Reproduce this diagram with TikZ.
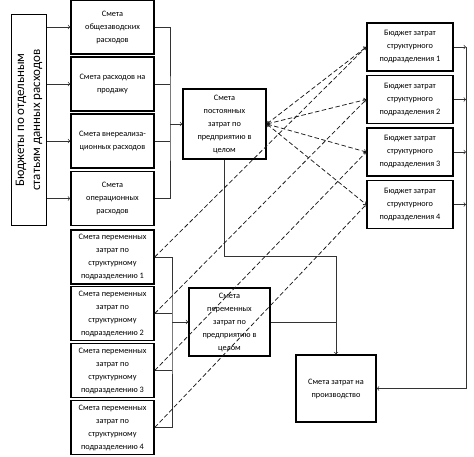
\documentclass[tikz,border=0pt]{standalone}
\usepackage{fontspec}
\setmainfont{Carlito}
\usetikzlibrary{arrows}

\begin{document}
\begin{tikzpicture}[x=1pt,y=-1pt,>=to,
    box/.style={draw, line width=1.5pt, align=center, inner sep=1pt,
      font=\fontsize{8.3}{13}\selectfont},
    colbox/.style={box, minimum width=83pt, minimum height=54pt},
    budbox/.style={box, minimum width=86pt, minimum height=48pt},
    link/.style={draw=black!80, line width=0.7pt},
    dashlink/.style={draw=black!90, line width=0.75pt, dash pattern=on 4.5pt off 2.5pt}]
  \useasboundingbox (0,0) rectangle (474,456);

  \node[box, minimum width=35pt, minimum height=211pt] (budgets) at (29,120)
    {\rotatebox{90}{\fontsize{13}{16}\selectfont\begin{tabular}{@{}c@{}}Бюджеты по отдельным\\статьям данных расходов\end{tabular}}};

  \node[colbox] (factory) at (112.5,27) {Смета\\общезаводских\\расходов};
  \node[colbox] (sales) at (112.5,84) {Смета расходов на\\продажу};
  \node[colbox] (nonop) at (112.5,141) {Смета внереализа-\\ционных расходов};
  \node[colbox] (oper) at (112.5,198.5) {Смета\\операционных\\расходов};
  \node[colbox] (varA) at (112.5,257) {Смета переменных\\затрат по\\структурному\\подразделению 1};
  \node[colbox] (varB) at (112.5,313.5) {Смета переменных\\затрат по\\структурному\\подразделению 2};
  \node[colbox] (varC) at (112.5,370.5) {Смета переменных\\затрат по\\структурному\\подразделению 3};
  \node[colbox] (varD) at (112.5,427.5) {Смета переменных\\затрат по\\структурному\\подразделению 4};

  \node[box, minimum width=83pt, minimum height=70pt] (fixed) at (224.5,124)
    {Смета\\постоянных\\затрат по\\предприятию в\\целом};
  \node[box, minimum width=81pt, minimum height=68pt] (variable) at (229.5,322)
    {Смета\\переменных\\затрат по\\предприятию в\\целом};
  \node[box, minimum width=80pt, minimum height=67pt] (prod) at (336,388.5)
    {Смета затрат на\\производство};

  \node[budbox] (unitA) at (410,47) {Бюджет затрат\\структурного\\подразделения 1};
  \node[budbox] (unitB) at (410,99.5) {Бюджет затрат\\структурного\\подразделения 2};
  \node[budbox] (unitC) at (410,152) {Бюджет затрат\\структурного\\подразделения 3};
  \node[budbox] (unitD) at (410,204.5) {Бюджет затрат\\структурного\\подразделения 4};

  \coordinate (fixbus) at (170,124);
  \coordinate (varbus) at (172,322);
  \coordinate (prodbus) at (336,256);
  \coordinate (unitbus) at (466,388.5);

  \draw[link,->] (budgets.east |- factory) -- (factory.west);
  \draw[link,->] (budgets.east |- sales) -- (sales.west);
  \draw[link,->] (budgets.east |- nonop) -- (nonop.west);
  \draw[link,->] (budgets.east |- oper) -- (oper.west);

  \draw[link] (factory.east) -| (fixbus) |- (oper.east);
  \draw[link] (sales.east) -- (sales.east -| fixbus);
  \draw[link] (nonop.east) -- (nonop.east -| fixbus);
  \draw[link,->] (fixbus) -- (fixed.west |- fixbus);

  \draw[link] (varA.east) -| (varbus) |- (varD.east);
  \draw[link] (varB.east) -- (varB.east -| varbus);
  \draw[link] (varC.east) -- (varC.east -| varbus);
  \draw[link,->] (varbus) -- (variable.west);

  \draw[link,->] (fixed.south) |- (prodbus) -- (prod.north);
  \draw[link] (variable.east) -- (variable.east -| prod.north);

  \draw[link,->] (unitA.east) -- (unitA.east -| unitbus);
  \draw[link,->] (unitB.east) -- (unitB.east -| unitbus);
  \draw[link,->] (unitC.east) -- (unitC.east -| unitbus);
  \draw[link,->] (unitD.east) -- (unitD.east -| unitbus);
  \draw[link,->] (unitA.east -| unitbus) -- (unitbus) -- (prod.east);

  \draw[dashlink,<->] (fixed.east) -- (unitA.west);
  \draw[dashlink,<->] (fixed.east) -- (unitB.west);
  \draw[dashlink,<->] (fixed.east) -- (unitC.west);
  \draw[dashlink,<->] (fixed.east) -- (unitD.west);

  \draw[dashlink,->] (varA.east) -- (unitA.west);
  \draw[dashlink,->] (varB.east) -- (unitB.west);
  \draw[dashlink,->] (varC.east) -- (unitC.west);
  \draw[dashlink,->] (varD.east) -- (unitD.west);
\end{tikzpicture}
\end{document}
